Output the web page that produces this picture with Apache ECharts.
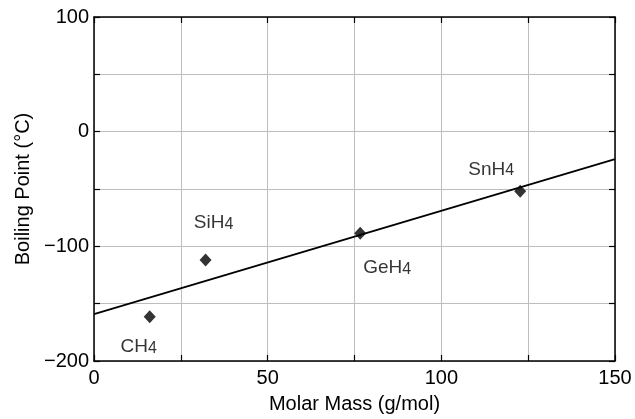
<!DOCTYPE html>
<html><head><meta charset="utf-8">
<script src="https://cdn.jsdelivr.net/npm/echarts@6/dist/echarts.min.js"></script>
<style>html,body{margin:0;padding:0;background:#fff}#c{width:635px;height:419px}</style>
</head><body><div id="c"></div>
<script>
const compounds = ['CH', 'SiH', 'GeH', 'SnH'];
const molarMass = [16.04, 32.12, 76.64, 122.7];
const boilingPoint = [-161.5, -111.9, -88.5, -52.0];
const fitX = [0, 150];
const fitY = [-159.2, -24.0];

const FONT = '"Liberation Sans", Arial, sans-serif';
const labelOffsets = [[-11, 30], [8, -37], [27, 35], [-29, -22]];
const fmt = v => (v < 0 ? '\u2212' + Math.abs(v) : String(v));

const chart = echarts.init(document.getElementById('c'), null, {renderer: 'canvas'});
const axisLineStyle = {show: true, onZero: false, lineStyle: {color: '#000', width: 1.5}};
const tickStyle = {show: true, inside: true, length: 6, lineStyle: {color: '#000', width: 1.2}};
chart.setOption({
  animation: false,
  backgroundColor: '#fff',
  grid: {left: 94, right: 20, top: 17, bottom: 54, containLabel: false},
  xAxis: [{
    type: 'value', min: 0, max: 150, interval: 25, position: 'bottom',
    name: 'Molar Mass (g/mol)', nameLocation: 'middle', nameGap: 33,
    nameTextStyle: {fontFamily: FONT, fontSize: 20, color: '#000'},
    axisLine: axisLineStyle, axisTick: tickStyle,
    axisLabel: {fontFamily: FONT, fontSize: 20, color: '#000', margin: 7,
      formatter: v => (v % 50 === 0 ? fmt(v) : '')},
    splitLine: {show: true, lineStyle: {color: '#bdbdbd', width: 1}}
  }, {
    type: 'value', min: 0, max: 150, interval: 25, position: 'top',
    axisLine: axisLineStyle, axisTick: tickStyle, axisLabel: {show: false},
    splitLine: {show: false}
  }],
  yAxis: [{
    type: 'value', min: -200, max: 100, interval: 50, position: 'left',
    name: 'Boiling Point (\u00B0C)', nameLocation: 'middle', nameGap: 59, nameRotate: 90,
    nameTextStyle: {fontFamily: FONT, fontSize: 20, color: '#000'},
    axisLine: axisLineStyle, axisTick: tickStyle,
    axisLabel: {fontFamily: FONT, fontSize: 20, color: '#000', margin: 5,
      formatter: v => (v % 100 === 0 ? fmt(v) : '')},
    splitLine: {show: true, lineStyle: {color: '#bdbdbd', width: 1}}
  }, {
    type: 'value', min: -200, max: 100, interval: 50, position: 'right',
    axisLine: axisLineStyle, axisTick: tickStyle, axisLabel: {show: false},
    splitLine: {show: false}
  }],
  series: [{
    type: 'line',
    data: fitX.map((x, i) => [x, fitY[i]]),
    showSymbol: false, symbol: 'none',
    lineStyle: {color: '#000', width: 1.8},
    z: 3
  }, {
    type: 'scatter',
    symbol: 'diamond', symbolSize: [12, 13],
    itemStyle: {color: '#000'},
    data: molarMass.map((x, i) => ({
      value: [x, boilingPoint[i]],
      label: {
        show: true, position: 'inside', offset: labelOffsets[i],
        formatter: '{a|' + compounds[i] + '}{b|4}',
        rich: {
          a: {fontFamily: FONT, fontSize: 19, color: '#000'},
          b: {fontFamily: FONT, fontSize: 16, color: '#000', verticalAlign: 'bottom', padding: [2, 0, 0, 0]}
        }
      }
    })),
    z: 4
  }]
});
</script>
</body></html>
